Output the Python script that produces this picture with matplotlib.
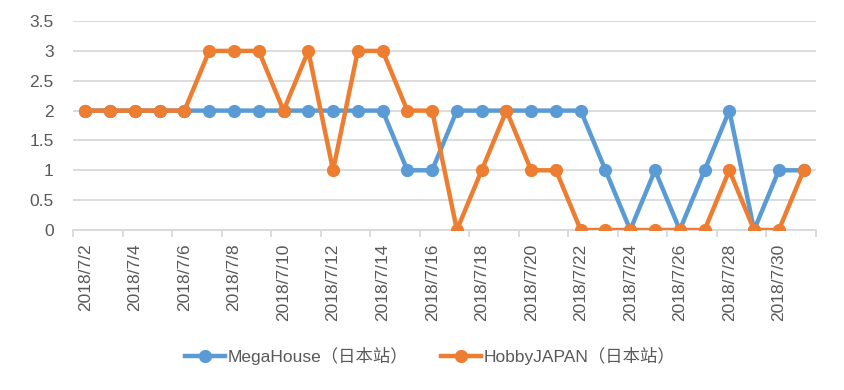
import matplotlib.pyplot as plt
import numpy as np

plt.rcParams['font.family'] = ['Liberation Sans', 'Noto Sans CJK SC', 'DejaVu Sans']

dates = [f"2018/7/{d}" for d in range(2, 32)]
megahouse = [2, 2, 2, 2, 2, 2, 2, 2, 2, 2, 2, 2, 2, 1, 1, 2, 2, 2, 2, 2, 2, 1, 0, 1, 0, 1, 2, 0, 1, 1]
hobbyjapan = [2, 2, 2, 2, 2, 3, 3, 3, 2, 3, 1, 3, 3, 2, 2, 0, 1, 2, 1, 1, 0, 0, 0, 0, 0, 0, 1, 0, 0, 1]

blue = '#5B9BD5'
orange = '#ED7D31'
grey_text = '#595959'

fig = plt.figure(figsize=(8.45, 3.9), dpi=100)
ax = fig.add_axes([0.0864, 0.4103, 0.8793, 0.5357])

x = np.arange(len(dates))
ax.plot(x, megahouse, color=blue, lw=3.2, marker='o', ms=8.5, label='MegaHouse（日本站）', zorder=3)
ax.plot(x, hobbyjapan, color=orange, lw=3.2, marker='o', ms=8.5, label='HobbyJAPAN（日本站）', zorder=4)

ax.set_xlim(-0.5, len(dates) - 0.5)
ax.set_ylim(0, 3.5)
ax.set_yticks(np.arange(0, 3.51, 0.5))
ax.set_yticklabels([f"{v:g}" for v in np.arange(0, 3.51, 0.5)])
ax.grid(axis='y', color='#D9D9D9', lw=1.3)
ax.set_axisbelow(True)

ax.set_xticks(x[::2])
ax.set_xticklabels(dates[::2], rotation=90, va='top')
ax.set_xticks(np.arange(-0.5, len(dates), 2), minor=True)
ax.tick_params(axis='x', which='major', length=0, pad=10, labelsize=12.5, labelcolor=grey_text)
ax.tick_params(axis='x', which='minor', length=5, color='#D9D9D9', width=1.3)
ax.tick_params(axis='y', length=0, pad=14, labelsize=12.5, labelcolor=grey_text)

for s in ['top', 'right', 'left']:
    ax.spines[s].set_visible(False)
ax.spines['bottom'].set_color('#D9D9D9')
ax.spines['bottom'].set_linewidth(1.3)

fig.legend(loc='center', bbox_to_anchor=(0.509, 0.087), ncol=2, frameon=False,
           fontsize=12.5, labelcolor=grey_text, handlelength=2.3, handletextpad=0.15,
           columnspacing=1.9, numpoints=1)

fig.savefig('out.png', dpi=100)
